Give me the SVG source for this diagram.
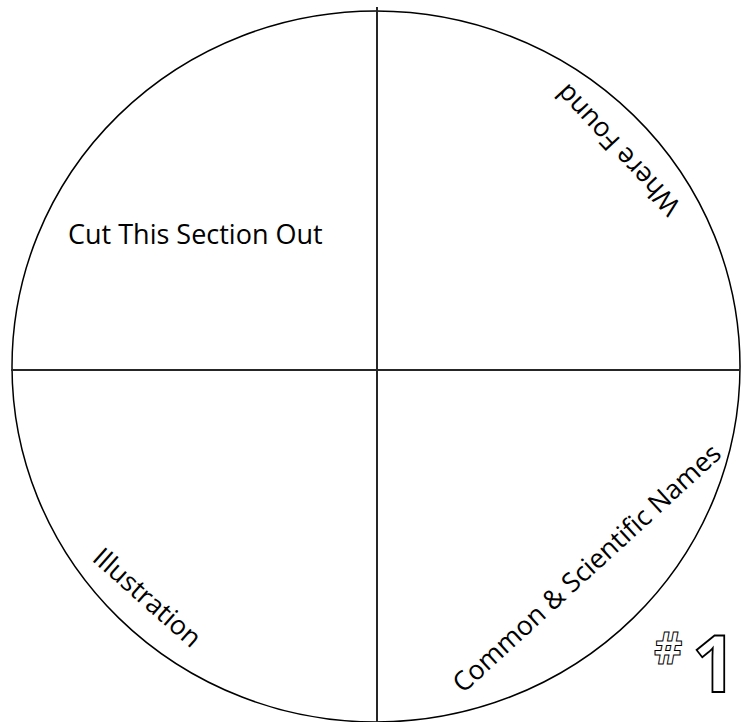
<svg xmlns="http://www.w3.org/2000/svg" width="750" height="722" viewBox="0 0 750 722">
<style>
.lbl{font-family:"Open Sans","Liberation Sans",sans-serif;font-size:26.7px;fill:#000}
.cut{font-family:"Open Sans","Liberation Sans",sans-serif;font-size:27px;fill:#000}
.num{font-family:"Open Sans","Liberation Sans",sans-serif;font-weight:bold;fill:#fff;stroke:#000}
</style>
<rect width="750" height="722" fill="#fff"/>
<g id="wheel">
<ellipse cx="376" cy="366.5" rx="364" ry="355.5" fill="none" stroke="#000" stroke-width="1.5"/>
</g>
<g id="connectors" stroke="#262626" stroke-width="2">
<line x1="377" y1="7" x2="377" y2="722"/>
<line x1="11" y1="370" x2="740" y2="370"/>
</g>
<g id="cut-section"><text class="cut" x="68" y="244">Cut This Section Out</text></g>
<g id="where-found"><text class="lbl" transform="translate(682,205) rotate(-133)">Where Found</text></g>
<g id="names"><text class="lbl" transform="translate(463,694) rotate(-42.5)">Common &amp; Scientific Names</text></g>
<g id="illustration"><text class="lbl" transform="translate(91,560) rotate(41.5)">Illustration</text></g>
<g id="number">
<text class="num" x="654" y="664" font-size="44" stroke-width="1">#</text>
<text class="num" x="692" y="692" font-size="78" stroke-width="1.8">1</text>
</g>
</svg>
